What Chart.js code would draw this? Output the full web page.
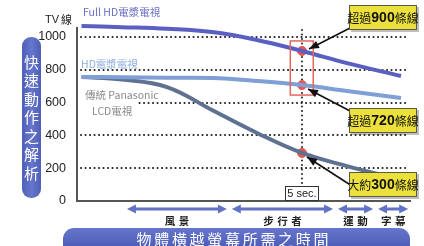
<!DOCTYPE html>
<html>
<head>
<meta charset="utf-8">
<script src="https://cdn.jsdelivr.net/npm/chart.js@4.4.0/dist/chart.umd.min.js"></script>
<style>
  html, body { margin: 0; padding: 0; background: #fff; }
  #wrap { width: 424px; height: 246px; }
</style>
</head>
<body>
<div id="wrap"><canvas id="chart" width="424" height="246"></canvas></div>
<script>
// 資料 (x = 秒)
const seconds = [0.1, 1, 2, 3, 4, 5, 6, 7.2];
const fullHD = [1067, 1060, 1050, 1030, 982, 915, 841, 762];
const hdPlasma = [756, 755, 752, 750, 732, 707, 671, 628];
const lcd = [756, 741, 695, 555, 415, 293, 213, 130];
const yTicks = [0, 200, 400, 600, 800, 1000];
const markSec = 5;
const markValues = [915, 707, 293];
const calloutTexts = [['超過', '900', '條線'], ['超過', '720', '條線'], ['大約', '300', '條線']];
const speedLabels = ['風景', '步行者', '運動', '字幕'];
const speedRanges = [[1.11, 3.33], [3.44, 5.69], [5.8, 6.58], [6.69, 7.36]];

const CJK = '"Noto Sans CJK TC", "Noto Sans", sans-serif';
const LAT = '"Liberation Sans", Arial, sans-serif';

function toPoints(xs, ys) {
  return xs.map((x, i) => ({ x: x, y: ys[i] }));
}

function roundRect(ctx, x, y, w, h, r) {
  ctx.beginPath();
  ctx.moveTo(x + r, y);
  ctx.arcTo(x + w, y, x + w, y + h, r);
  ctx.arcTo(x + w, y + h, x, y + h, r);
  ctx.arcTo(x, y + h, x, y, r);
  ctx.arcTo(x, y, x + w, y, r);
  ctx.closePath();
}

function head(ctx, x1, y1, x2, y2, len, w) {
  const a = Math.atan2(y2 - y1, x2 - x1);
  ctx.beginPath();
  ctx.moveTo(x2, y2);
  ctx.lineTo(x2 - len * Math.cos(a) + w * Math.sin(a), y2 - len * Math.sin(a) - w * Math.cos(a));
  ctx.lineTo(x2 - len * Math.cos(a) - w * Math.sin(a), y2 - len * Math.sin(a) + w * Math.cos(a));
  ctx.closePath();
  ctx.fill();
}

// 點狀格線 (圓點)
const dotGrid = {
  id: 'dotGrid',
  beforeDatasetsDraw(chart) {
    const ctx = chart.ctx, a = chart.chartArea;
    const xs = chart.scales.x, ys = chart.scales.y;
    ctx.save();
    ctx.strokeStyle = '#222';
    ctx.lineWidth = 2;
    ctx.lineCap = 'round';
    ctx.setLineDash([0.1, 4.4]);
    yTicks.forEach(v => {
      if (v === 0) return;
      const py = Math.round(ys.getPixelForValue(v));
      ctx.beginPath();
      ctx.moveTo(a.left + 4, py);
      ctx.lineTo(a.right - 4, py);
      ctx.stroke();
    });
    const px = Math.round(xs.getPixelForValue(markSec));
    ctx.beginPath();
    ctx.moveTo(px, a.top + 2);
    ctx.lineTo(px, a.bottom);
    ctx.stroke();
    ctx.restore();
  }
};

// 標註、框、箭頭
const deco = {
  id: 'deco',
  afterDraw(chart) {
    const ctx = chart.ctx;
    const xs = chart.scales.x, ys = chart.scales.y;
    ctx.save();

    // 左邊藍色直條
    let g = ctx.createLinearGradient(22, 0, 41, 0);
    g.addColorStop(0, '#4f5fb8'); g.addColorStop(0.5, '#6676cc'); g.addColorStop(1, '#4f5fb8');
    ctx.fillStyle = g;
    roundRect(ctx, 22, 37, 19, 161, 9);
    ctx.fill();
    ctx.fillStyle = '#fff';
    ctx.font = '15px ' + CJK;
    ctx.textAlign = 'center';
    ctx.textBaseline = 'middle';
    '快速動作之解析'.split('').forEach((ch, i) => ctx.fillText(ch, 31.5, 62 + i * 18.5));

    // 下方藍色橫條
    g = ctx.createLinearGradient(0, 228, 0, 250);
    g.addColorStop(0, '#6676cc'); g.addColorStop(1, '#4a5ab5');
    ctx.fillStyle = g;
    roundRect(ctx, 63, 228, 347, 30, 11);
    ctx.fill();
    ctx.fillStyle = '#fff';
    ctx.font = '15px ' + CJK;
    '物體橫越螢幕所需之時間'.split('').forEach((ch, i) => ctx.fillText(ch, 144 + i * 17.7, 239));

    // TV線
    ctx.fillStyle = '#222';
    ctx.textAlign = 'left';
    ctx.font = '11px ' + LAT;
    ctx.fillText('TV', 45, 20);
    ctx.font = '11px ' + CJK;
    ctx.fillText('線', 61, 20);

    // 系列名稱
    ctx.font = '10.5px ' + CJK;
    ctx.fillStyle = '#6a6ec2';
    ctx.fillText('Full HD電漿電視', 83, 12);
    ctx.fillStyle = '#8eaee0';
    ctx.fillText('HD電漿電視', 81, 64);
    ctx.fillStyle = '#fff';
    ctx.fillRect(79, 99, 58, 8);
    ctx.fillStyle = '#8a8a8a';
    ctx.fillText('傳統 Panasonic', 85, 95);
    ctx.fillText('LCD電視', 92, 111);

    // 速度箭頭
    ctx.strokeStyle = '#6272c4';
    ctx.fillStyle = '#6272c4';
    ctx.lineWidth = 3;
    speedRanges.forEach((r, i) => {
      const a = xs.getPixelForValue(r[0]), b = xs.getPixelForValue(r[1]);
      const yy = 209;
      ctx.beginPath();
      ctx.moveTo(a + 5, yy); ctx.lineTo(b - 5, yy);
      ctx.stroke();
      head(ctx, b, yy, a, yy, 9, 4.5);
      head(ctx, a, yy, b, yy, 9, 4.5);
      ctx.fillStyle = '#222';
      ctx.font = 'bold 10.5px ' + CJK;
      ctx.textAlign = 'center';
      const chars = speedLabels[i].split('');
      const sp = 14;
      const cx = (a + b) / 2 - (chars.length - 1) * sp / 2;
      chars.forEach((ch, k) => ctx.fillText(ch, cx + k * sp, 221));
      ctx.fillStyle = '#6272c4';
    });

    // 5 sec. 框
    const px5 = xs.getPixelForValue(markSec);
    ctx.fillStyle = '#fff';
    ctx.fillRect(px5 - 17, 186, 34, 15);
    ctx.strokeStyle = '#333';
    ctx.lineWidth = 1;
    ctx.strokeRect(px5 - 16.5, 186.5, 33, 14);
    ctx.fillStyle = '#222';
    ctx.font = '11px ' + LAT;
    ctx.textAlign = 'center';
    ctx.fillText('5 sec.', px5, 194);

    // 紅色框
    ctx.strokeStyle = '#e2665e';
    ctx.lineWidth = 1.5;
    const rx1 = xs.getPixelForValue(4.74), rx2 = xs.getPixelForValue(5.25);
    const ry1 = ys.getPixelForValue(976), ry2 = ys.getPixelForValue(646);
    ctx.strokeRect(rx1, ry1, rx2 - rx1, ry2 - ry1);

    // 黃色標註框與黑色箭頭
    const boxTops = [5, 108, 172];
    const tips = [[309, 49], [308, 89], [307, 157]];
    const tails = [[352, 27], [352, 112], [352, 186]];
    ctx.strokeStyle = '#111';
    ctx.fillStyle = '#111';
    ctx.lineWidth = 1.6;
    tips.forEach((t, i) => {
      ctx.beginPath();
      ctx.moveTo(tails[i][0], tails[i][1]);
      ctx.lineTo(t[0], t[1]);
      ctx.stroke();
      head(ctx, tails[i][0], tails[i][1], t[0], t[1], 10, 4);
    });
    calloutTexts.forEach((parts, i) => {
      const top = boxTops[i];
      ctx.fillStyle = 'rgba(0,0,0,0.25)';
      ctx.fillRect(351, top + 2, 68, 25);
      ctx.fillStyle = '#ebe03c';
      ctx.fillRect(349, top, 68, 25);
      ctx.strokeStyle = '#5a5a40';
      ctx.lineWidth = 1;
      ctx.strokeRect(349.5, top + 0.5, 67, 24);
      const f1 = '12px ' + CJK, f2 = 'bold 14px ' + LAT;
      ctx.font = f1; const w1 = ctx.measureText(parts[0]).width, w3 = ctx.measureText(parts[2]).width;
      ctx.font = f2; const w2 = ctx.measureText(parts[1]).width;
      let sx = 383 - (w1 + w2 + w3) / 2;
      ctx.textAlign = 'left';
      ctx.fillStyle = '#111';
      const ty = top + 13;
      ctx.font = f1; ctx.fillText(parts[0], sx, ty);
      ctx.font = f2; ctx.fillText(parts[1], sx + w1, ty + 0.5);
      ctx.font = f1; ctx.fillText(parts[2], sx + w1 + w2, ty);
    });

    ctx.restore();
  }
};

new Chart(document.getElementById('chart').getContext('2d'), {
  type: 'line',
  data: {
    datasets: [
      { label: 'Full HD電漿電視', data: toPoints(seconds, fullHD), borderColor: '#5a5fc2', borderWidth: 4, tension: 0.4, pointRadius: 0, clip: false },
      { label: 'HD電漿電視', data: toPoints(seconds, hdPlasma), borderColor: '#7f9fd6', borderWidth: 4, tension: 0.4, pointRadius: 0, clip: false },
      { label: '傳統 Panasonic LCD電視', data: toPoints(seconds, lcd), borderColor: '#5f7191', borderWidth: 4, tension: 0.4, pointRadius: 0, clip: false },
      { type: 'scatter', label: '5 sec.', data: markValues.map(v => ({ x: markSec, y: v })), backgroundColor: '#e6564e', borderColor: '#e6564e', pointRadius: 4.5, clip: false }
    ]
  },
  options: {
    responsive: false,
    animation: false,
    layout: { padding: { left: 0, right: 14, top: 28, bottom: 45 } },
    plugins: { legend: { display: false }, tooltip: { enabled: false } },
    scales: {
      x: {
        type: 'linear',
        min: 0,
        max: 7.4,
        afterFit: (s) => { s.height = 0; },
        ticks: { display: false },
        grid: { display: false },
        border: { display: true, color: '#555', width: 2 }
      },
      y: {
        min: 0,
        max: 1055,
        afterBuildTicks: (s) => { s.ticks = yTicks.map(v => ({ value: v })); },
        afterFit: (s) => { s.width = 77; },
        ticks: { color: '#222', font: { family: LAT, size: 12.5 }, padding: 3, callback: (v) => String(v) },
        grid: { display: false },
        border: { display: true, color: '#555', width: 2 }
      }
    }
  },
  plugins: [dotGrid, deco]
});
</script>
</body>
</html>
